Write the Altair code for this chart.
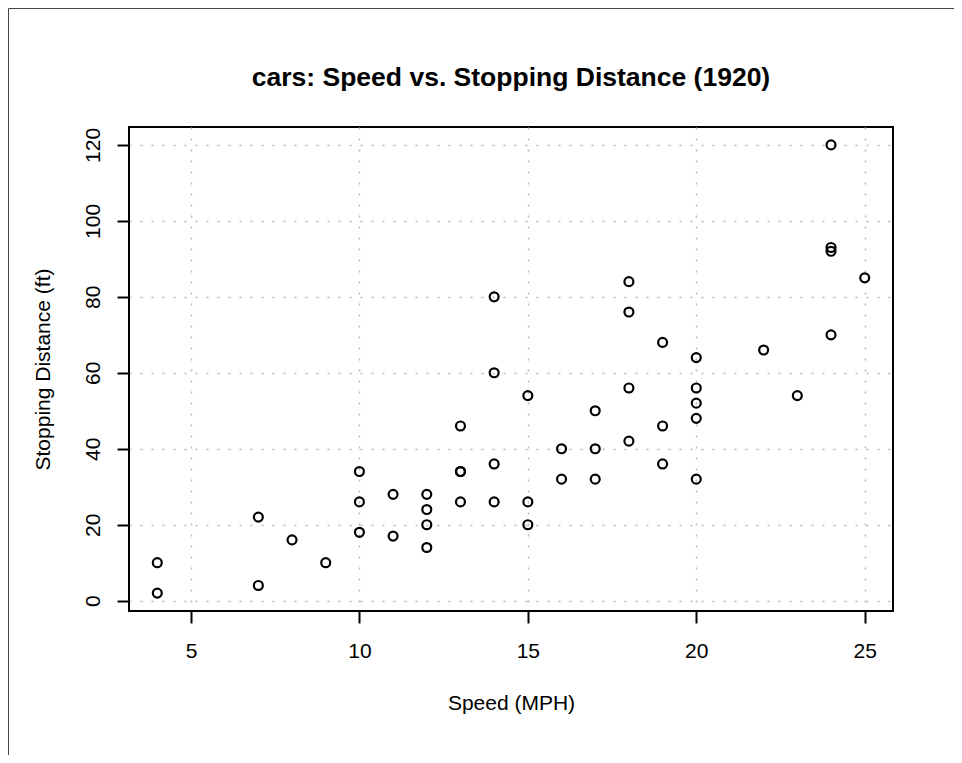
import altair as alt
import pandas as pd

speed = [4, 4, 7, 7, 8, 9, 10, 10, 10, 11, 11, 12, 12, 12, 12, 13, 13, 13, 13, 14,
         14, 14, 14, 15, 15, 15, 16, 16, 17, 17, 17, 18, 18, 18, 18, 19, 19, 19, 20, 20,
         20, 20, 20, 22, 23, 24, 24, 24, 24, 25]
dist = [2, 10, 4, 22, 16, 10, 18, 26, 34, 17, 28, 14, 20, 24, 28, 26, 34, 34, 46, 26,
        36, 60, 80, 20, 26, 54, 32, 40, 32, 40, 50, 42, 56, 76, 84, 36, 46, 68, 32, 48,
        52, 56, 64, 66, 54, 70, 92, 93, 120, 85]
x_ticks = [5, 10, 15, 20, 25]
y_ticks = [0, 20, 40, 60, 80, 100, 120]
title_text = ["cars: Speed vs. Stopping Distance (1920)"]

df = pd.DataFrame({"speed": speed, "dist": dist})

FONT = "Liberation Sans"
W, H = 764, 484

x_scale = alt.Scale(domain=[3.16, 25.84], nice=False, zero=False)
y_scale = alt.Scale(domain=[-2.72, 124.72], nice=False, zero=False)

points = alt.Chart(df).mark_point(
    shape="circle", filled=False, color="black", size=80, strokeWidth=2.2, opacity=1
).encode(
    x=alt.X("speed:Q", scale=x_scale,
            axis=alt.Axis(values=x_ticks, title="Speed (MPH)", domain=False,
                          tickSize=12, tickWidth=2, tickColor="black",
                          labelFont=FONT, labelFontSize=21, labelColor="black",
                          labelBaseline="alphabetic", labelPadding=34,
                          titleFont=FONT, titleFontSize=21, titleFontWeight="normal",
                          titleColor="black", titleBaseline="alphabetic",
                          titleY=98, grid=True, gridColor="#b8b8b8",
                          gridDash=[2, 9], gridWidth=1.5)),
    y=alt.Y("dist:Q", scale=y_scale,
            axis=alt.Axis(values=y_ticks, title="Stopping Distance (ft)", domain=False,
                          tickSize=12, tickWidth=2, tickColor="black",
                          labelFont=FONT, labelFontSize=21, labelColor="black",
                          labelAngle=270, labelAlign="center",
                          labelBaseline="alphabetic", labelPadding=18,
                          titleFont=FONT, titleFontSize=21, titleFontWeight="normal",
                          titleColor="black", titleBaseline="alphabetic",
                          titleX=-80, titleAngle=270,
                          grid=True, gridColor="#b8b8b8",
                          gridDash=[2, 9], gridWidth=1.5)),
)

frame_left = alt.Chart(pd.DataFrame({"a": [0]})).mark_rule(
    color="#444", strokeWidth=1
).encode(x=alt.value(-120.5), y=alt.value(-118.5), y2=alt.value(H + 144))

frame_top = alt.Chart(pd.DataFrame({"a": [0]})).mark_rule(
    color="#444", strokeWidth=1
).encode(y=alt.value(-118.5), x=alt.value(-120.5), x2=alt.value(W + 61))

title = alt.Chart(pd.DataFrame({"t": title_text})).mark_text(
    font=FONT, fontSize=26.5, fontWeight="bold", color="black",
    align="center", baseline="alphabetic"
).encode(text="t:N", x=alt.value(W / 2), y=alt.value(-41))

chart = alt.layer(frame_left, frame_top, points, title).properties(
    width=W, height=H,
    autosize=alt.AutoSizeParams(type="none"),
    padding={"left": 121, "top": 119, "right": 61, "bottom": 144},
).configure(
    background="white",
    view=alt.ViewConfig(stroke="black", strokeWidth=2),
)

chart.save("out.html", embed_options={"renderer": "svg", "actions": False})
